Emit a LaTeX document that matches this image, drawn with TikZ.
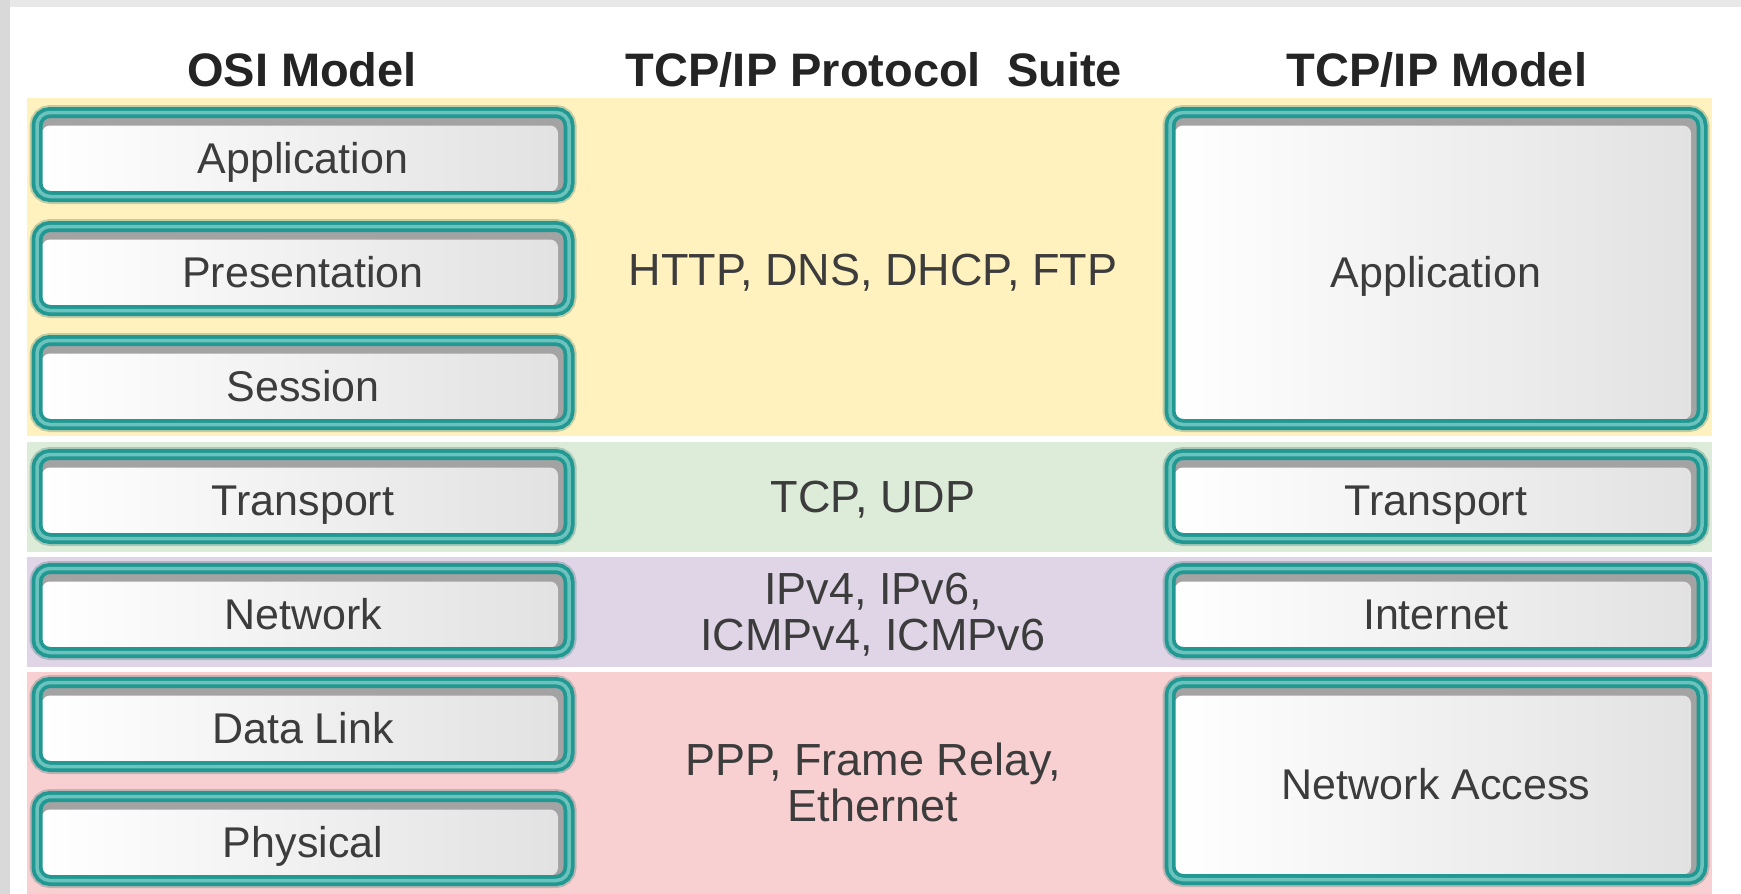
\documentclass[tikz,border=0pt]{standalone}
\usepackage{fontspec}
\setmainfont{Liberation Sans}
\usepackage{tikz}
\usetikzlibrary{positioning}
\definecolor{tealring}{RGB}{34,152,146}
\definecolor{teallight}{RGB}{108,194,188}
\definecolor{bandyellow}{RGB}{255,242,190}
\definecolor{bandgreen}{RGB}{220,236,216}
\definecolor{bandpurple}{RGB}{223,213,231}
\definecolor{bandpink}{RGB}{248,208,209}
\definecolor{boxshadow}{RGB}{163,163,163}
\definecolor{boxgrey}{RGB}{226,226,226}
\definecolor{labeltext}{RGB}{60,60,60}
\definecolor{titletext}{RGB}{36,36,36}
\tikzstyle{layer} = [rectangle, rounded corners=13pt, inner sep=0pt, minimum width=532pt, minimum height=84pt,
  text height=37pt, text depth=0pt, font=\fontsize{43}{45}\selectfont, text=labeltext,
  preaction={draw=tealring!60!black, line width=15pt, opacity=0.25},
  path picture={
    \fill[boxshadow] (path picture bounding box.south west) rectangle (path picture bounding box.north east);
    \shade[left color=white, right color=boxgrey, rounded corners=8pt]
      ([xshift=5pt,yshift=5pt]path picture bounding box.south west) rectangle
      ([xshift=-11pt,yshift=-13pt]path picture bounding box.north east);},
  draw=tealring, line width=11pt, postaction={draw=teallight, line width=3.5pt}]
\tikzstyle{title} = [font=\fontsize{47}{50}\bfseries, text=titletext, anchor=base]
\tikzstyle{proto} = [font=\fontsize{45}{46}\selectfont, text=labeltext, align=center]

\begin{document}
\begin{tikzpicture}[x=1pt, y=-1pt]
		\useasboundingbox (0,0) rectangle (1741,894);
		% Background
		\fill[gray!18] (0,0) rectangle (1741,894);
		\fill[gray!30] (0,0) rectangle (10,894);
		\fill[white] (10,7) rectangle (1741,894);
		\fill[bandyellow] (27,98) rectangle (1712,436);
		\fill[bandgreen] (27,442) rectangle (1712,552);
		\fill[bandpurple] (27,557) rectangle (1712,667);
		\fill[bandpink] (27,672) rectangle (1712,894);
		% Titles
		\node[title] (osiTitle) at (302,86) {OSI Model};
		\node[title] (suiteTitle) at (874,86) {TCP/IP Protocol\ \ Suite};
		\node[title] (tcpTitle) at (1437,86) {TCP/IP Model};
		% OSI layers
		\node[layer] (osiApp) at (303,154.5) {Application};
		\node[layer, below=19pt of osiApp] (osiPres) {Presentation};
		\node[layer, below=19pt of osiPres] (osiSess) {Session};
		\node[layer, below=19pt of osiSess] (osiTrans) {Transport};
		\node[layer, below=19pt of osiTrans] (osiNet) {Network};
		\node[layer, below=19pt of osiNet] (osiLink) {Data Link};
		\node[layer, below=19pt of osiLink] (osiPhys) {Physical};
		% TCP/IP layers
		\node[layer, minimum height=312pt] (tcpApp) at (1436,268.5) {Application};
		\node[layer, right=590pt of osiTrans] (tcpTrans) {Transport};
		\node[layer, right=590pt of osiNet] (tcpInet) {Internet};
		\node[layer, minimum height=197pt] (tcpAccess) at (1436,781) {Network Access};
		% Protocols
		\node[proto, anchor=base] (appProto) at (873,285) {HTTP, DNS, DHCP, FTP};
		\node[proto, anchor=base] (transProto) at (873,512) {TCP, UDP};
		\node[proto] (netProto) at (873,615) {IPv4, IPv6,\\ICMPv4, ICMPv6};
		\node[proto] (linkProto) at (873,782) {PPP, Frame Relay,\\Ethernet};
	\end{tikzpicture}
\end{document}
